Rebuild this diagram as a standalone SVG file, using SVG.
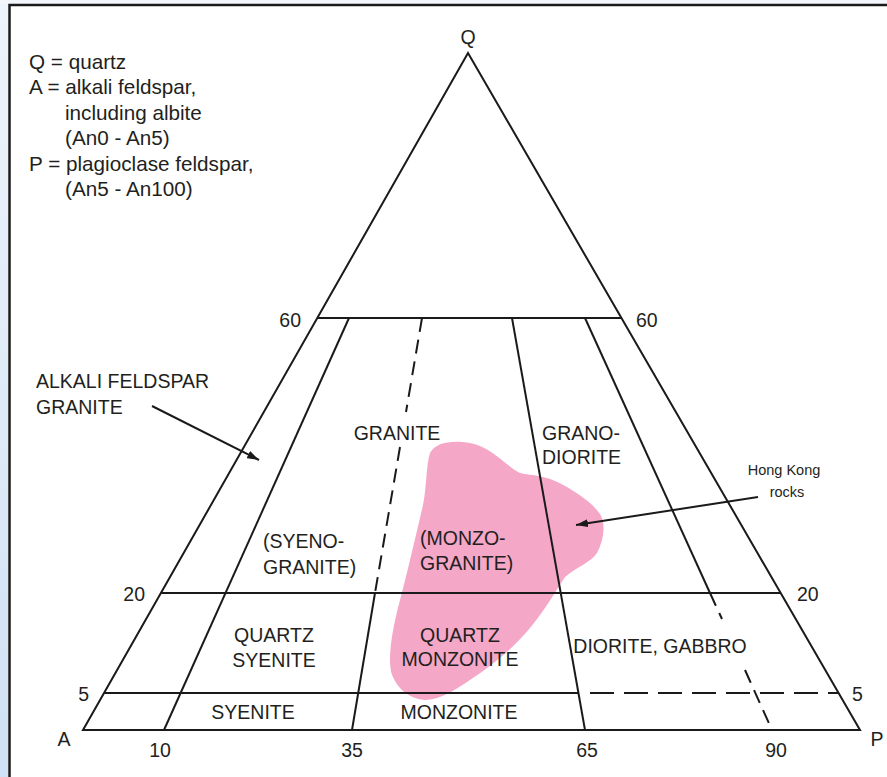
<svg xmlns="http://www.w3.org/2000/svg" width="887" height="777" viewBox="0 0 887 777">
<defs>
<linearGradient id="side" x1="0" y1="0" x2="0" y2="1">
<stop offset="0" stop-color="#eef4fb"/>
<stop offset="1" stop-color="#cfe1f4"/>
</linearGradient>
<marker id="ah" viewBox="0 0 12 8" refX="12" refY="4" markerWidth="12" markerHeight="8" markerUnits="userSpaceOnUse" orient="auto">
<path d="M0,0 L12,4 L0,8 Z" fill="#1a1a1a"/>
</marker>
<style>
.ln{stroke:#1a1a1a;stroke-width:2;fill:none}
.ds{stroke:#1a1a1a;stroke-width:2;fill:none;stroke-dasharray:14 8}
.dh{stroke:#1a1a1a;stroke-width:2;fill:none;stroke-dasharray:24 10}
.ar{stroke:#1a1a1a;stroke-width:2;fill:none;marker-end:url(#ah)}
text{font-family:"Liberation Sans",Arial,sans-serif;font-size:19.5px;fill:#231f20}
.lg{font-size:20.7px}
.sm{font-size:14.5px}
</style>
</defs>
<rect x="0" y="0" width="887" height="777" fill="#ffffff"/>
<rect x="0" y="0" width="8" height="777" fill="url(#side)"/>
<rect x="0" y="0" width="887" height="4" fill="#f2f6fb"/>
<path d="M9.5,777 V5 H887" fill="none" stroke="#1a1a1a" stroke-width="2.5"/>

<g id="legend">
<text class="lg" x="29" y="69">Q = quartz</text>
<text class="lg" x="29" y="94">A = alkali feldspar,</text>
<text class="lg" x="65" y="120">including albite</text>
<text class="lg" x="65" y="145">(An0 - An5)</text>
<text class="lg" x="29" y="171">P = plagioclase feldspar,</text>
<text class="lg" x="65" y="196">(An5 - An100)</text>
</g>

<g id="hong-kong-rocks">
<path d="M430,453 C436,442 452,440 470,443 C492,447 508,468 520,473 C532,476 545,474 567,487 C582,496 592,503 600,514 C606,524 604,540 597,553 C590,563 578,566 565,577 C555,592 545,610 530,628 C515,646 495,664 470,680 C455,690 440,700 425,700 C410,699 398,690 392,675 C387,660 392,630 400,600 C408,570 416,535 423,505 C427,485 426,465 430,453 Z" fill="#f4a7c7"/>
</g>

<g id="triangle">
<polygon class="ln" points="468,53 83,730 860,730"/>
<line class="ln" x1="317" y1="318" x2="621" y2="318"/>
<line class="ln" x1="161" y1="593" x2="781" y2="593"/>
<line class="ln" x1="104" y1="693" x2="578" y2="693"/>
<line class="dh" x1="590" y1="693" x2="839" y2="693"/>
</g>

<g id="connectors">
<line class="ln" x1="164" y1="730" x2="349" y2="318"/>
<line class="ds" x1="422" y1="318" x2="406" y2="412"/>
<line class="ds" x1="400" y1="447" x2="375" y2="593"/>
<line class="ln" x1="375" y1="593" x2="352" y2="730"/>
<line class="ln" x1="512" y1="318" x2="585" y2="730"/>
<line class="ln" x1="585" y1="318" x2="710" y2="593"/>
<line class="ds" x1="710" y1="593" x2="722" y2="619"/>
<line class="ds" x1="745" y1="670" x2="772" y2="730"/>
<line class="ar" x1="152" y1="406" x2="259" y2="460"/>
<line class="ar" x1="758" y1="497" x2="576" y2="525"/>
</g>

<g id="scale-labels">
<text x="468" y="44" text-anchor="middle">Q</text>
<text x="301" y="327" text-anchor="end">60</text>
<text x="636" y="327">60</text>
<text x="145" y="601" text-anchor="end">20</text>
<text x="797" y="601">20</text>
<text x="89" y="701" text-anchor="end">5</text>
<text x="852" y="701">5</text>
<text x="64" y="746" text-anchor="middle">A</text>
<text x="877" y="746" text-anchor="middle">P</text>
<text x="160" y="757" text-anchor="middle">10</text>
<text x="352" y="757" text-anchor="middle">35</text>
<text x="587" y="757" text-anchor="middle">65</text>
<text x="776" y="757" text-anchor="middle">90</text>
</g>

<g id="alkali-feldspar-granite">
<text x="36" y="388">ALKALI FELDSPAR</text>
<text x="36" y="414">GRANITE</text>
</g>
<g id="granite"><text x="397" y="440" text-anchor="middle">GRANITE</text></g>
<g id="granodiorite">
<text x="542" y="440">GRANO-</text>
<text x="542" y="464">DIORITE</text>
</g>
<g id="hong-kong-label">
<text class="sm" x="784" y="475" text-anchor="middle">Hong Kong</text>
<text class="sm" x="787" y="497" text-anchor="middle">rocks</text>
</g>
<g id="syenogranite">
<text x="263" y="548">(SYENO-</text>
<text x="263" y="574">GRANITE)</text>
</g>
<g id="monzogranite">
<text x="420" y="545">(MONZO-</text>
<text x="420" y="570">GRANITE)</text>
</g>
<g id="quartz-syenite">
<text x="274" y="642" text-anchor="middle">QUARTZ</text>
<text x="274" y="667" text-anchor="middle">SYENITE</text>
</g>
<g id="quartz-monzonite">
<text x="460" y="642" text-anchor="middle">QUARTZ</text>
<text x="460" y="666" text-anchor="middle">MONZONITE</text>
</g>
<g id="diorite-gabbro"><text x="660" y="653" text-anchor="middle">DIORITE, GABBRO</text></g>
<g id="syenite"><text x="253" y="719" text-anchor="middle">SYENITE</text></g>
<g id="monzonite"><text x="459" y="719" text-anchor="middle">MONZONITE</text></g>
</svg>
